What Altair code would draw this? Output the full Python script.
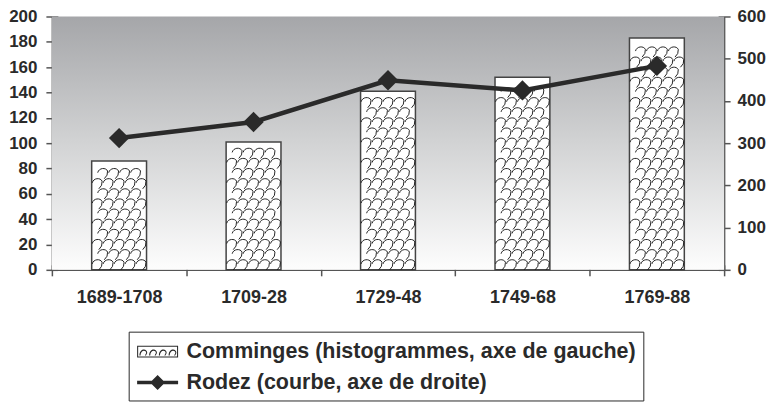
import altair as alt
import pandas as pd

# ---------------- data ----------------
PERIODS = ["1689-1708", "1709-28", "1729-48", "1749-68", "1769-88"]
COMMINGES = [86, 101, 141, 152, 183]          # left axis (bars)
RODEZ = [312, 350, 449, 425, 483]             # right axis (line)
LEFT_TICKS = [0, 20, 40, 60, 80, 100, 120, 140, 160, 180, 200]
RIGHT_TICKS = [0, 100, 200, 300, 400, 500, 600]
SERIES = ["Comminges (histogrammes, axe de gauche)", "Rodez (courbe, axe de droite)"]

# ---------------- style ----------------
W, H = 674, 254
FONT = "Liberation Sans"
INK = "#2a2a2a"
AXC = "#555555"

df = pd.DataFrame({"period": PERIODS, "comminges": COMMINGES, "rodez": RODEZ})
leg = pd.DataFrame({"series": SERIES})
one = pd.DataFrame({"k": [0]})


def scallops(starts):
    parts = []
    for a in starts:
        b = a + 0.36
        parts.append(
            f"M{a:.2f},0.06 C{a + 0.04:.2f},-0.12 {b - 0.06:.2f},-0.14 {b:.2f},0.0 "
            f"Q{b + 0.02:.2f},0.16 {b - 0.12:.2f},0.28"
        )
    return " ".join(parts)


EVEN_PATH = scallops([-0.98, -0.58, -0.18, 0.22, 0.62])
ODD_PATH = scallops([-0.78, -0.38, 0.02, 0.42])

# legend swatches drawn as filled outlines (frame with a hole + thin crescents)
LEG1 = (
    "M-1.58,-0.46 L1.58,-0.46 L1.58,0.46 L-1.58,0.46 Z "
    "M-1.50,-0.38 L-1.50,0.38 L1.50,0.38 L1.50,-0.38 Z "
    + " ".join(
        f"M{a:.2f},0.30 C{a:.2f},-0.28 {a + 0.6:.2f},-0.28 {a + 0.6:.2f},0.10 "
        f"L{a + 0.5:.2f},0.30 L{a + 0.42:.2f},0.30 L{a + 0.52:.2f},0.10 "
        f"C{a + 0.52:.2f},-0.16 {a + 0.08:.2f},-0.16 {a + 0.08:.2f},0.30 Z"
        for a in [-1.4, -0.65, 0.1, 0.85]
    )
)
LEG2 = ("M-1.58,-0.14 L1.58,-0.14 L1.58,0.14 L-1.58,0.14 Z "
        "M0,-0.58 L0.58,0 L0,0.58 L-0.58,0 Z")

x_scale = alt.Scale(paddingInner=0, paddingOuter=0)


def X(axis):
    return alt.X("period:N", sort=PERIODS, scale=x_scale, axis=axis, title=None)


x_axis_main = alt.Axis(title=None, orient="bottom", domain=True, domainColor=AXC, domainWidth=1.5,
                       ticks=False, tickSize=0, labelFont=FONT, labelFontSize=18,
                       labelFontWeight="bold", labelColor=INK, labelPadding=19,
                       labelAngle=0, tickBand="extent", grid=False)
x_axis_ticks = alt.Axis(title=None, orient="bottom", domain=False, labels=False, ticks=True,
                        tickSize=11, offset=-5, tickColor=AXC, tickWidth=1.5,
                        tickBand="extent", grid=False)

yl_main = alt.Axis(title=None, orient="left", values=LEFT_TICKS, domain=True, domainColor=AXC,
                   domainWidth=1.5, ticks=False, tickSize=0, labelFont=FONT, labelFontSize=17,
                   labelFontWeight="bold", labelColor=INK, labelPadding=15, grid=False)
yl_ticks = alt.Axis(title=None, orient="left", values=LEFT_TICKS, domain=False, labels=False,
                    ticks=True, tickSize=12, offset=-6, tickColor=AXC, tickWidth=1.5, grid=False)
yr_main = alt.Axis(title=None, orient="right", values=RIGHT_TICKS, domain=True, domainColor=AXC,
                   domainWidth=1.5, ticks=False, tickSize=0, labelFont=FONT, labelFontSize=17,
                   labelFontWeight="bold", labelColor=INK, labelPadding=13, grid=False)
yr_ticks = alt.Axis(title=None, orient="right", values=RIGHT_TICKS, domain=False, labels=False,
                    ticks=True, tickSize=12, offset=-6, tickColor=AXC, tickWidth=1.5, grid=False)

left_scale = alt.Scale(domain=[0, 200])
right_scale = alt.Scale(domain=[0, 600])

bg = alt.Chart(one).mark_rect(
    fill=alt.LinearGradient(
        gradient="linear",
        stops=[alt.GradientStop(color="#a5a6a9", offset=0),
               alt.GradientStop(color="#d2d3d4", offset=0.5),
               alt.GradientStop(color="#fdfdfd", offset=1)],
        x1=0, x2=0, y1=0, y2=1,
    )
).encode(x=alt.value(0), x2=alt.value(W), y=alt.value(0), y2=alt.value(H))

bars = alt.Chart(df).mark_bar(width=55, fill="white", stroke="#444444", strokeWidth=1.5).encode(
    x=X(x_axis_main),
    y=alt.Y("comminges:Q", scale=left_scale, axis=yl_main),
)

pat = (
    alt.Chart(df)
    .transform_calculate(lvl="sequence(6, datum.comminges - 3, 8)")
    .transform_flatten(["lvl"])
    .transform_calculate(odd="floor((datum.lvl - 6) / 8) % 2")
)
pat_even = pat.transform_filter("datum.odd == 0").mark_point(
    shape=EVEN_PATH, size=3025, filled=False, stroke="#1a1a1a", strokeWidth=0.95, opacity=1
).encode(x=X(x_axis_ticks), y=alt.Y("lvl:Q", scale=left_scale, axis=yl_ticks))
pat_odd = pat.transform_filter("datum.odd == 1").mark_point(
    shape=ODD_PATH, size=3025, filled=False, stroke="#1a1a1a", strokeWidth=0.95, opacity=1
).encode(x=X(None), y=alt.Y("lvl:Q", scale=left_scale, axis=None))

line = alt.Chart(df).mark_line(color=INK, strokeWidth=4.5).encode(
    x=X(None), y=alt.Y("rodez:Q", scale=right_scale, axis=yr_main)
)
pts = alt.Chart(df).mark_point(shape="diamond", filled=True, size=420, color=INK, opacity=1).encode(
    x=X(None), y=alt.Y("rodez:Q", scale=right_scale, axis=yr_ticks)
)

helper = alt.Chart(leg).mark_point(size=0, filled=True, color=INK, opacity=1, strokeWidth=0).encode(
    shape=alt.Shape(
        "series:N",
        scale=alt.Scale(domain=SERIES, range=[LEG1, LEG2]),
        legend=alt.Legend(
            title=None, orient="none", legendX=77, legendY=316, direction="vertical",
            padding=7, strokeColor=INK, fillColor="white", symbolSize=676, symbolOffset=9,
            symbolOpacity=1, symbolFillColor=INK, symbolStrokeWidth=0,
            labelFont=FONT, labelFontSize=21.5,
            labelFontWeight="bold", labelColor=INK, labelOffset=16, labelLimit=0, rowPadding=7,
        ),
    )
)

chart = (
    alt.layer(bg, bars, pat_even, pat_odd, line, pts, helper)
    .resolve_scale(y="independent")
    .resolve_axis(x="independent", y="independent")
    .properties(
        width=W, height=H,
        autosize=alt.AutoSizeParams(type="none"),
        padding={"left": 44, "top": 8, "right": 44, "bottom": 132},
        background="white",
    )
    .configure_view(stroke=None)
)

chart.save("out.html", embed_options={"renderer": "svg", "actions": False})
